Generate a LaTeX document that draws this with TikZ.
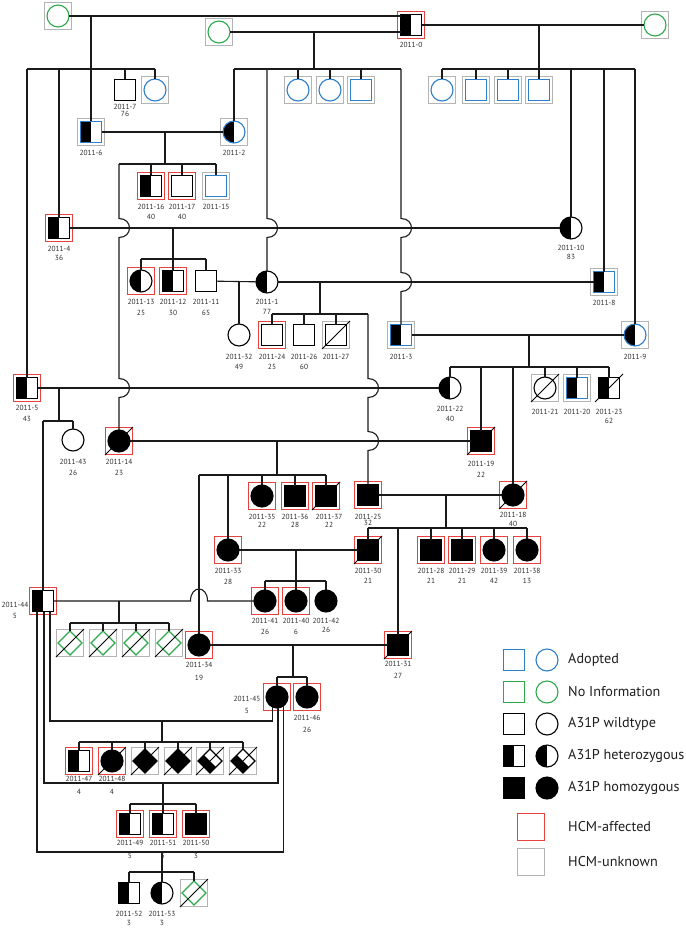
\documentclass[tikz,border=0pt]{standalone}
\usepackage{fontspec}
\setmainfont{PT Sans}
\usetikzlibrary{calc,shapes.geometric}
\definecolor{adblue}{HTML}{2F7FC8}
\definecolor{nigreen}{HTML}{2EA84C}
\definecolor{frred}{HTML}{E8423F}
\definecolor{frgray}{HTML}{B4B4B4}
\definecolor{lncol}{HTML}{1A1A1A}
\definecolor{txtcol}{HTML}{2E2E2E}
\newcommand\pers[5]{\node[#5] (#1f) at (#2,#3) {}; \node[#4] (#1) at (#2,#3) {};}
\newcommand\mkdead[1]{\draw[slash] ($(#1)+(-14,14)$) -- ($(#1)+(14,-14)$);}
\newcommand\plab[5]{\node[lbl] (#1-l) at ($(#1)+(0,#4)$) {#2}; \node[lbl] (#1-a) at ($(#1)+(0,#5)$) {#3};}
\newcommand\plabo[3]{\node[lbl] (#1-l) at ($(#1)+(0,#3)$) {#2};}
\newcommand\vbump[2]{-- (#1,#2-9.5) .. controls (#1+14,#2-9.5) and (#1+14,#2+9.5) .. (#1,#2+9.5)}
\begin{document}
\begin{tikzpicture}[x=1pt,y=-1pt,
 sym/.style={minimum size=21pt, inner sep=0pt, outer sep=0pt, line width=1.1pt, draw=black, fill=white},
 sq/.style={sym, rectangle},
 ci/.style={sym, circle, minimum size=22pt},
 dm/.style={sym, diamond, minimum size=24pt},
 half/.style={path picture={\fill[black] (path picture bounding box.south west) rectangle (path picture bounding box.north);}},
 halfd/.style={path picture={\fill[black] (path picture bounding box.north west) -- (path picture bounding box.south east) -- (path picture bounding box.south west) -- cycle;}},
 full/.style={fill=black},
 adopt/.style={draw=adblue},
 noinfo/.style={draw=nigreen},
 fr/.style={rectangle, minimum size=27pt, inner sep=0pt, outer sep=0pt, draw=frred, line width=0.9pt},
 fg/.style={rectangle, minimum size=27pt, inner sep=0pt, outer sep=0pt, draw=frgray, line width=1.3pt},
 nf/.style={inner sep=0pt, minimum size=0pt},
 ln/.style={draw=lncol, line width=1.1pt},
 slash/.style={draw=black, line width=1pt},
 lbl/.style={font=\fontsize{7.4}{8}\selectfont, text=txtcol, inner sep=0pt},
 leg/.style={font=\fontsize{14.2}{16}\selectfont, text=black!88, anchor=west, inner sep=0pt},
]
\fill[white] (0,0) rectangle (685,928);
\useasboundingbox (0,0) rectangle (685,928);

% ---------- individuals ----------
\pers{g1}{58}{16}{ci,noinfo}{fg}
\pers{g2}{219}{32}{ci,noinfo}{fg}
\pers{p0}{411}{25}{sq,half}{fr}
\pers{g3}{655}{25}{ci,noinfo}{fg}

\pers{p7}{125}{90}{sq}{nf}
\pers{a1}{155}{90}{ci,adopt}{fg}
\pers{a2}{298}{90}{ci,adopt}{fg}
\pers{a3}{330}{90}{ci,adopt}{fg}
\pers{a4}{361}{90}{sq,adopt}{fg}
\pers{a5}{442}{90}{ci,adopt}{fg}
\pers{a6}{476}{90}{sq,adopt}{fg}
\pers{a7}{508}{90}{sq,adopt}{fg}
\pers{a8}{539}{90}{sq,adopt}{fg}

\pers{p6}{91}{132}{sq,half,adopt}{fg}
\pers{p2}{234}{132}{ci,half,adopt}{fg}
\pers{p16}{151}{186}{sq,half}{fr}
\pers{p17}{182}{186}{sq}{fr}
\pers{p15}{216}{186}{sq,adopt}{fg}

\pers{p4}{59}{228}{sq,half}{fr}
\pers{p10}{571}{228}{ci,half}{nf}
\pers{p13}{141}{281}{ci,half}{fr}
\pers{p12}{173}{281}{sq,half}{fr}
\pers{p11}{206}{281}{sq}{nf}
\pers{p1}{267}{282}{ci,half}{nf}
\pers{p8}{604}{282}{sq,half,adopt}{fg}

\pers{p32}{239}{335}{ci}{nf}
\pers{p24}{272}{335}{sq}{fr}
\pers{p26}{304}{335}{sq}{nf}
\pers{p27}{336}{335}{sq}{fg}
\pers{p3}{401}{335}{sq,half,adopt}{fg}
\pers{p9}{635}{335}{ci,half,adopt}{fg}

\pers{p5}{27}{388}{sq,half}{fr}
\pers{p22}{450}{388}{ci,half}{nf}
\pers{p21}{545}{388}{ci}{fg}
\pers{p20}{577}{388}{sq,half,adopt}{fg}
\pers{p23}{609}{388}{sq,half}{nf}

\pers{p43}{73}{440}{ci}{nf}
\pers{p14}{119}{441}{ci,full}{fr}
\pers{p19}{481}{441}{sq,full}{fr}

\pers{p35}{262}{496}{ci,full}{fr}
\pers{p36}{295}{496}{sq,full}{fr}
\pers{p37}{326}{496}{sq,full}{fr}
\pers{p25}{368}{495}{sq,full}{fr}
\pers{p18}{513}{495}{ci,full}{fr}

\pers{p33}{228}{550}{ci,full}{fr}
\pers{p30}{368}{550}{sq,full}{fr}
\pers{p28}{431}{550}{sq,full}{fr}
\pers{p29}{462}{550}{sq,full}{fr}
\pers{p39}{494}{550}{ci,full}{fr}
\pers{p38}{527}{550}{ci,full}{fr}

\pers{p44}{43}{601}{sq,half}{fr}
\pers{p41}{265}{601}{ci,full}{fr}
\pers{p40}{296}{601}{ci,full}{fr}
\pers{p42}{326}{601}{ci,full}{nf}

\pers{d1}{70}{643}{dm,noinfo}{fg}
\pers{d2}{103}{643}{dm,noinfo}{fg}
\pers{d3}{136}{643}{dm,noinfo}{fg}
\pers{d4}{169}{643}{dm,noinfo}{fg}
\pers{p34}{199}{645}{ci,full}{fr}
\pers{p31}{398}{645}{sq,full}{fr}

\pers{p45}{277}{697}{ci,full}{fr}
\pers{p46}{307}{697}{ci,full}{fr}

\pers{p47}{79}{761}{sq,half}{fr}
\pers{p48}{112}{761}{ci,full}{fr}
\pers{e1}{145}{761}{dm,full}{fg}
\pers{e2}{178}{761}{dm,full}{fg}
\pers{e3}{210}{761}{dm,halfd}{fg}
\pers{e4}{243}{761}{dm,halfd}{fg}

\pers{p49}{130}{824}{sq,half}{fr}
\pers{p51}{163}{824}{sq,half}{fr}
\pers{p50}{196}{824}{sq,full}{fr}

\pers{p52}{129}{893}{sq,half}{nf}
\pers{p53}{162}{893}{ci,half}{nf}
\pers{f1}{194}{893}{dm,noinfo}{fg}

% deceased
\mkdead{p27}\mkdead{p21}\mkdead{p23}\mkdead{p14}\mkdead{p19}\mkdead{p37}
\mkdead{p18}\mkdead{p30}\mkdead{p31}\mkdead{d1}\mkdead{d2}\mkdead{d3}\mkdead{d4}
\mkdead{p48}\mkdead{e1}\mkdead{e2}\mkdead{e3}\mkdead{e4}\mkdead{f1}

% ---------- sibship levels and drop points ----------
\coordinate (s1) at (0,69);
\coordinate (s4) at (0,164);
\coordinate (s5) at (0,259);
\coordinate (s7) at (0,314);
\coordinate (s8) at (0,367);
\coordinate (s9) at (0,421);
\coordinate (s10) at (0,475);
\coordinate (s11) at (0,528);
\coordinate (s12) at (0,581);
\coordinate (s13) at (0,623);
\coordinate (s14) at (0,677);
\coordinate (s15) at (0,742);
\coordinate (s16) at (0,804);
\coordinate (s17) at (0,872);
\coordinate (m2) at (314,32);
\coordinate (m4) at (165,132);
\coordinate (m5) at (173,228);
\coordinate (m6) at (239,282);
\coordinate (m7) at (320,282);
\coordinate (m8) at (529,335);
\coordinate (m9) at (59,388);
\coordinate (m10) at (277,441);
\coordinate (m11) at (446,495);
\coordinate (m12) at (296,550);
\coordinate (m13) at (119,601);
\coordinate (m14) at (293,645);
\coordinate (u1) at (50,721);
\coordinate (u2) at (44,783);
\coordinate (u3) at (37,852);
\coordinate (m15) at (162,721);
\coordinate (m16) at (163,783);
\coordinate (m17) at (162,852);
\coordinate (hopL) at (190.5,601);
\coordinate (hopR) at (207.5,601);

% ---------- generation I ----------
\draw[ln] (g1) -- (g1 -| p0.west);
\draw[ln] (g2) -- (g2 -| p0.west);
\draw[ln] (p0) -- (g3);
\draw[ln] (g1 -| p6) -- (p6);
\draw[ln] (p5 |- s1) -- (a1 |- s1);
\foreach \c in {p5,p4,p7,a1} \draw[ln] (\c |- s1) -- (\c);
\draw[ln] (m2) -- (m2 |- s1);
\draw[ln] (p2 |- s1) -- (p3 |- s1);
\foreach \c in {p2,a2,a3,a4} \draw[ln] (\c |- s1) -- (\c);
\draw[ln] (p1 |- s1) \vbump{267}{228} -- (p1);
\draw[ln] (p3 |- s1) \vbump{401}{228} \vbump{401}{282} -- (p3);
\draw[ln] (p0 -| a8) -- (a8);
\draw[ln] (a5 |- s1) -- (p9 |- s1);
\foreach \c in {a5,a6,a7,p10,p8,p9} \draw[ln] (\c |- s1) -- (\c);

% ---------- 2011-6 x 2011-2 ----------
\draw[ln] (p6) -- (p2);
\draw[ln] (m4) -- (m4 |- s4);
\draw[ln] (p14 |- s4) -- (p15 |- s4);
\foreach \c in {p16,p17,p15} \draw[ln] (\c |- s4) -- (\c);
\draw[ln] (p14 |- s4) \vbump{119}{228} \vbump{119}{388} -- (p14);

% ---------- 2011-4 x 2011-10 ----------
\draw[ln] (p4) -- (p10);
\draw[ln] (m5) -- (m5 |- s5);
\draw[ln] (p13 |- s5) -- (p11 |- s5);
\foreach \c in {p13,p12,p11} \draw[ln] (\c |- s5) -- (\c);

% ---------- 2011-11 x 2011-1 x 2011-8 ----------
\draw[ln] (p11) -- (p1);
\draw[ln] (m6) -- (p32);
\draw[ln] (p1) -- (p8);
\draw[ln] (m7) -- (m7 |- s7);
\draw[ln] (p24 |- s7) -- (p25 |- s7);
\foreach \c in {p24,p26,p27} \draw[ln] (\c |- s7) -- (\c);
\draw[ln] (p25 |- s7) \vbump{368}{388} \vbump{368}{441} -- (p25);

% ---------- 2011-3 x 2011-9 ----------
\draw[ln] (p3) -- (p9);
\draw[ln] (m8) -- (m8 |- s8);
\draw[ln] (p22 |- s8) -- (p23 |- s8);
\foreach \c in {p22,p19,p18,p21,p20,p23} \draw[ln] (\c |- s8) -- (\c);

% ---------- 2011-5 x 2011-22 ----------
\draw[ln] (p5) -- (p22);
\draw[ln] (m9) -- (m9 |- s9);
\draw[ln] (p44 |- s9) -- (p43 |- s9);
\foreach \c in {p44,p43} \draw[ln] (\c |- s9) -- (\c);

% ---------- 2011-14 x 2011-19 ----------
\draw[ln] (p14) -- (p19);
\draw[ln] (m10) -- (m10 |- s10);
\draw[ln] (p34 |- s10) -- (p37 |- s10);
\foreach \c in {p34,p33,p35,p36,p37} \draw[ln] (\c |- s10) -- (\c);

% ---------- 2011-25 x 2011-18 ----------
\draw[ln] (p25) -- (p18);
\draw[ln] (m11) -- (m11 |- s11);
\draw[ln] (p30 |- s11) -- (p38 |- s11);
\foreach \c in {p30,p31,p28,p29,p39,p38} \draw[ln] (\c |- s11) -- (\c);

% ---------- 2011-33 x 2011-30 ----------
\draw[ln] (p33) -- (p30);
\draw[ln] (m12) -- (m12 |- s12);
\draw[ln] (p41 |- s12) -- (p42 |- s12);
\foreach \c in {p41,p40,p42} \draw[ln] (\c |- s12) -- (\c);

% ---------- 2011-44 x 2011-41 ----------
\draw[ln] (p44) -- (hopL) .. controls ($(hopL)+(0,-16)$) and ($(hopR)+(0,-16)$) .. (hopR) -- (p41);
\draw[ln] (m13) -- (m13 |- s13);
\draw[ln] (d1 |- s13) -- (d4 |- s13);
\foreach \c in {d1,d2,d3,d4} \draw[ln] (\c |- s13) -- (\c);

% ---------- 2011-34 x 2011-31 ----------
\draw[ln] (p34) -- (p31);
\draw[ln] (m14) -- (m14 |- s14);
\draw[ln] (p45 |- s14) -- (p46 |- s14);
\foreach \c in {p45,p46} \draw[ln] (\c |- s14) -- (\c);

% ---------- 2011-44 x 2011-45 ----------
\draw[ln] (p44.south -| u1) -- (u1) -| (p45.248);
\draw[ln] (p44.south -| u2) -- (u2) -| (p45.275);
\draw[ln] (p44.south -| u3) -- (u3) -| (p45.305);
\draw[ln] (m15) -- (m15 |- s15);
\draw[ln] (p47 |- s15) -- (e4 |- s15);
\foreach \c in {p47,p48,e1,e2,e3,e4} \draw[ln] (\c |- s15) -- (\c);
\draw[ln] (m16) -- (m16 |- s16);
\draw[ln] (p49 |- s16) -- (p50 |- s16);
\foreach \c in {p49,p51,p50} \draw[ln] (\c |- s16) -- (\c);
\draw[ln] (m17) -- (m17 |- s17);
\draw[ln] (p52 |- s17) -- (f1 |- s17);
\foreach \c in {p52,p53,f1} \draw[ln] (\c |- s17) -- (\c);

% ---------- labels ----------
\plabo{p0}{2011-0}{20}
\plab{p7}{2011-7}{76}{17}{24}
\plabo{p6}{2011-6}{21}
\plabo{p2}{2011-2}{21}
\plab{p16}{2011-16}{40}{21}{31}
\plab{p17}{2011-17}{40}{21}{31}
\plabo{p15}{2011-15}{21}
\plab{p4}{2011-4}{36}{21}{30}
\plab{p10}{2011-10}{83}{20}{29}
\plab{p13}{2011-13}{25}{21}{32}
\plab{p12}{2011-12}{30}{21}{32}
\plab{p11}{2011-11}{65}{21}{32}
\plab{p1}{2011-1}{77}{20}{30}
\plabo{p8}{2011-8}{21}
\plab{p32}{2011-32}{49}{22}{32}
\plab{p24}{2011-24}{25}{22}{32}
\plab{p26}{2011-26}{60}{22}{32}
\plabo{p27}{2011-27}{22}
\plabo{p3}{2011-3}{22}
\plabo{p9}{2011-9}{22}
\plab{p5}{2011-5}{43}{20}{31}
\plab{p22}{2011-22}{40}{21}{31}
\plabo{p21}{2011-21}{24}
\plabo{p20}{2011-20}{24}
\plab{p23}{2011-23}{62}{24}{33}
\plab{p43}{2011-43}{26}{22}{33}
\plab{p14}{2011-14}{23}{21}{32}
\plab{p19}{2011-19}{22}{23}{34}
\plab{p35}{2011-35}{22}{21}{29}
\plab{p36}{2011-36}{28}{21}{29}
\node[lbl] (p37-l) at ($(p37)+(3,21)$) {2011-37};
\node[lbl] (p37-a) at ($(p37)+(3,29)$) {22};
\plab{p25}{2011-25}{32}{22}{28}
\plab{p18}{2011-18}{40}{20}{29}
\plab{p33}{2011-33}{28}{21}{32}
\plab{p30}{2011-30}{21}{21}{31}
\plab{p28}{2011-28}{21}{21}{31}
\plab{p29}{2011-29}{21}{21}{31}
\plab{p39}{2011-39}{42}{21}{31}
\plab{p38}{2011-38}{13}{21}{31}
\node[lbl] (p44-l) at ($(p44)+(-28,4)$) {2011-44};
\node[lbl] (p44-a) at ($(p44)+(-28,15)$) {5};
\plab{p41}{2011-41}{26}{20}{31}
\plab{p40}{2011-40}{6}{20}{31}
\plab{p42}{2011-42}{26}{20}{29}
\plab{p34}{2011-34}{19}{20}{33}
\plab{p31}{2011-31}{27}{19}{31}
\node[lbl] (p45-l) at ($(p45)+(-30,2)$) {2011-45};
\node[lbl] (p45-a) at ($(p45)+(-30,14)$) {5};
\plab{p46}{2011-46}{26}{21}{33}
\plab{p47}{2011-47}{4}{18}{31}
\plab{p48}{2011-48}{4}{18}{31}
\plab{p49}{2011-49}{5}{19}{32}
\plab{p51}{2011-51}{5}{19}{32}
\plab{p50}{2011-50}{3}{19}{32}
\plab{p52}{2011-52}{3}{21}{30}
\plab{p53}{2011-53}{3}{21}{30}

% ---------- legend ----------
\node[sq,adopt] (lg1s) at (514,660) {};
\node[ci,adopt] (lg1c) at (547,660) {};
\node[leg] (lg1t) at (568,660) {Adopted};
\node[sq,noinfo] (lg2s) at (514,692) {};
\node[ci,noinfo] (lg2c) at (547,692) {};
\node[leg] (lg2t) at (568,692) {No Information};
\node[sq] (lg3s) at (514,724) {};
\node[ci] (lg3c) at (547,724) {};
\node[leg] (lg3t) at (568,724) {A31P wildtype};
\node[sq,half] (lg4s) at (514,756) {};
\node[ci,half] (lg4c) at (547,756) {};
\node[leg] (lg4t) at (568,756) {A31P heterozygous};
\node[sq,full] (lg5s) at (514,788) {};
\node[ci,full] (lg5c) at (547,788) {};
\node[leg] (lg5t) at (568,788) {A31P homozygous};
\node[fr] (lg6s) at (531,827) {};
\node[leg] (lg6t) at (568,827) {HCM-affected};
\node[fg] (lg7s) at (531,862) {};
\node[leg] (lg7t) at (568,862) {HCM-unknown};
\end{tikzpicture}
\end{document}
